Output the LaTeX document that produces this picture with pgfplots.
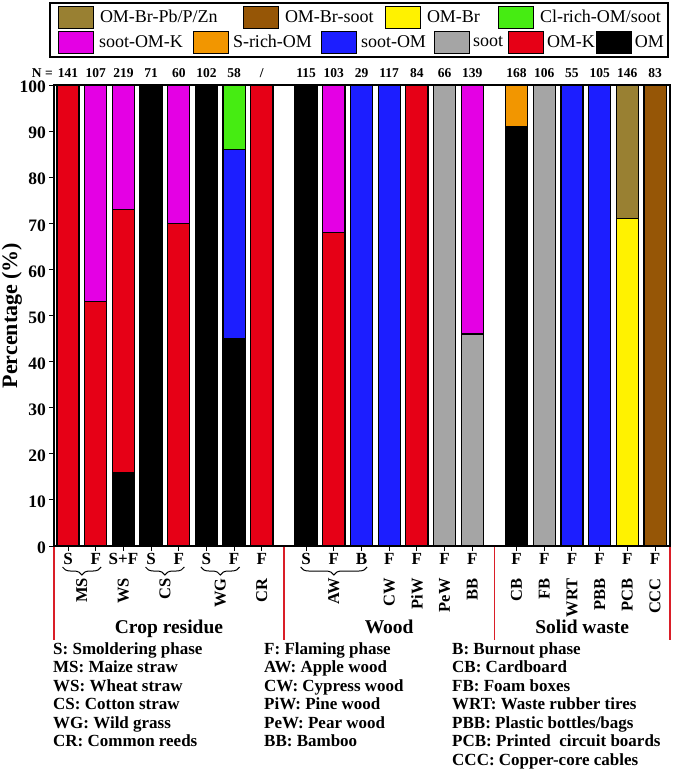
\documentclass[border=0pt]{standalone}
\usepackage{fontspec}
\setmainfont{Liberation Serif}
\usepackage{pgfplots}
\pgfplotsset{compat=1.18}
\usepackage{pgfplotstable}
\usetikzlibrary{decorations.pathreplacing}

\definecolor{cOM}{RGB}{0,0,0}
\definecolor{cOMK}{RGB}{230,0,22}
\definecolor{cSoot}{RGB}{165,165,165}
\definecolor{cSootOM}{RGB}{28,30,255}
\definecolor{cSrich}{RGB}{242,150,0}
\definecolor{cSootOMK}{RGB}{228,0,228}
\definecolor{cCl}{RGB}{70,236,18}
\definecolor{cOMBr}{RGB}{255,242,0}
\definecolor{cOMBrsoot}{RGB}{150,86,6}
\definecolor{cOMBrPb}{RGB}{153,128,50}
\definecolor{cLine}{RGB}{218,30,40}

\pgfplotstableread{
x OM OMK soot sootOM Srich sootOMK Cl OMBr OMBrsoot OMBrPb
1 0 100 0 0 0 0 0 0 0 0
2 0 53 0 0 0 47 0 0 0 0
3 16 57 0 0 0 27 0 0 0 0
4 100 0 0 0 0 0 0 0 0 0
5 0 70 0 0 0 30 0 0 0 0
6 100 0 0 0 0 0 0 0 0 0
7 45 0 0 41 0 0 14 0 0 0
8 0 100 0 0 0 0 0 0 0 0
9.6 100 0 0 0 0 0 0 0 0 0
10.6 0 68 0 0 0 32 0 0 0 0
11.6 0 0 0 100 0 0 0 0 0 0
12.6 0 0 0 100 0 0 0 0 0 0
13.6 0 100 0 0 0 0 0 0 0 0
14.6 0 0 100 0 0 0 0 0 0 0
15.6 0 0 46 0 0 54 0 0 0 0
17.2 91 0 0 0 9 0 0 0 0 0
18.2 0 0 100 0 0 0 0 0 0 0
19.2 0 0 0 100 0 0 0 0 0 0
20.2 0 0 0 100 0 0 0 0 0 0
21.2 0 0 0 0 0 0 0 71 0 29
22.2 0 0 0 0 0 0 0 0 100 0
}\datatable

\newcommand{\lgtext}[3]{\makebox[#1][l]{\hspace*{#2}#3}}
\pgfplotsset{
  legaxis/.style={hide axis, scale only axis, width=10pt, height=10pt,
    xmin=0, xmax=1, ymin=0, ymax=1, anchor=south west,
    legend cell align=left,
    legend image code/.code={\draw[##1, draw=black, line width=1pt] (0pt,-11pt) rectangle (35pt,11pt);},
    legend style={at={(0,0)}, anchor=west, draw=none, fill=none, inner sep=0pt, outer sep=0pt,
      column sep=0pt, nodes={inner sep=0pt}, font=\fontsize{18}{18}\selectfont}},
}

\begin{document}
\begin{tikzpicture}
\useasboundingbox (0pt,0pt) rectangle (675pt,-771pt);
\begin{axis}[
  at={(54pt,-546pt)}, anchor=south west,
  scale only axis, width=616pt, height=461pt,
  ybar stacked, bar width=0.8,
  xmin=0.494, xmax=22.74, ymin=0, ymax=100,
  axis line style={line width=1.2pt},
  xtick={1,2,3,4,5,6,7,8,9.6,10.6,11.6,12.6,13.6,14.6,15.6,17.2,18.2,19.2,20.2,21.2,22.2},
  xticklabels={S,F,S+F,S,F,S,F,F,S,F,B,F,F,F,F,F,F,F,F,F,F},
  ytick={0,10,...,100},
  tick align=outside, xtick pos=bottom, ytick pos=left,
  major tick length=5pt,
  tick style={black, line width=1pt},
  /pgf/number format/assume math mode=true,
  yticklabel style={font=\bfseries\fontsize{17.5}{17.5}\selectfont, inner sep=0pt, xshift=-3pt, yshift=-2pt},
  xticklabel style={font=\bfseries\fontsize{17}{17}\selectfont, inner sep=0pt, yshift=-2pt},
  ylabel={Percentage (\%)},
  ylabel style={at={(axis description cs:-0.0682,0.5)}, anchor=center, font=\bfseries\fontsize{22}{22}\selectfont},
  every axis plot/.append style={draw=black, line width=1.2pt},
]
\addplot[fill=cOM] table[x=x, y=OM] {\datatable};
\addplot[fill=cOMK] table[x=x, y=OMK] {\datatable};
\addplot[fill=cSoot] table[x=x, y=soot] {\datatable};
\addplot[fill=cSootOM] table[x=x, y=sootOM] {\datatable};
\addplot[fill=cSrich] table[x=x, y=Srich] {\datatable};
\addplot[fill=cSootOMK] table[x=x, y=sootOMK] {\datatable};
\addplot[fill=cCl] table[x=x, y=Cl] {\datatable};
\addplot[fill=cOMBr] table[x=x, y=OMBr] {\datatable};
\addplot[fill=cOMBrsoot] table[x=x, y=OMBrsoot] {\datatable};
\addplot[fill=cOMBrPb] table[x=x, y=OMBrPb] {\datatable};
\end{axis}

% N labels
\begin{scope}[every node/.style={anchor=base, inner sep=0pt, font=\bfseries\fontsize{13.5}{13.5}\selectfont}]
\node[anchor=base east] at (53pt,-77pt) {N =};
\node at (68.01pt,-77pt) {141};
\node at (95.70pt,-77pt) {107};
\node at (123.39pt,-77pt) {219};
\node at (151.08pt,-77pt) {71};
\node at (178.77pt,-77pt) {60};
\node at (206.46pt,-77pt) {102};
\node at (234.15pt,-77pt) {58};
\node at (261.84pt,-77pt) {/};
\node at (306.14pt,-77pt) {115};
\node at (333.83pt,-77pt) {103};
\node at (361.52pt,-77pt) {29};
\node at (389.21pt,-77pt) {117};
\node at (416.90pt,-77pt) {84};
\node at (444.59pt,-77pt) {66};
\node at (472.28pt,-77pt) {139};
\node at (516.59pt,-77pt) {168};
\node at (544.28pt,-77pt) {106};
\node at (571.97pt,-77pt) {55};
\node at (599.66pt,-77pt) {105};
\node at (627.35pt,-77pt) {146};
\node at (655.04pt,-77pt) {83};
\end{scope}

% braces
\begin{scope}[line width=1pt, decoration={brace, mirror, amplitude=8pt}]
\draw[decorate] (62.5pt,-567pt) -- (101.2pt,-567pt);
\draw[decorate] (145.5pt,-567pt) -- (184.3pt,-567pt);
\draw[decorate] (200.9pt,-567pt) -- (239.7pt,-567pt);
\draw[decorate] (300.6pt,-567pt) -- (367.1pt,-567pt);
\end{scope}

% rotated sample labels
\begin{scope}[every node/.style={rotate=90, anchor=east, inner sep=0pt, font=\bfseries\fontsize{16.5}{16.5}\selectfont}]
\node at (81.86pt,-578pt) {MS};
\node at (123.39pt,-578pt) {WS};
\node at (164.9pt,-578pt) {CS};
\node at (220.3pt,-578pt) {WG};
\node at (261.84pt,-578pt) {CR};
\node at (333.83pt,-578pt) {AW};
\node at (389.21pt,-578pt) {CW};
\node at (416.90pt,-578pt) {PiW};
\node at (444.59pt,-578pt) {PeW};
\node at (472.28pt,-578pt) {BB};
\node at (516.59pt,-578pt) {CB};
\node at (544.28pt,-578pt) {FB};
\node at (571.97pt,-578pt) {WRT};
\node at (599.66pt,-578pt) {PBB};
\node at (627.35pt,-578pt) {PCB};
\node at (655.04pt,-578pt) {CCC};
\end{scope}

% group separators
\draw[cLine, line width=1.2pt] (54pt,-546.6pt) -- (54pt,-640pt);
\draw[cLine, line width=1.2pt] (284.0pt,-546.6pt) -- (284.0pt,-640pt);
\draw[cLine, line width=1.2pt] (494.4pt,-546.6pt) -- (494.4pt,-640pt);
\draw[cLine, line width=1.2pt] (670pt,-546.6pt) -- (670pt,-640pt);

% group names
\begin{scope}[every node/.style={anchor=base, inner sep=0pt, font=\bfseries\fontsize{19.5}{19.5}\selectfont}]
\node at (169pt,-633pt) {Crop residue};
\node at (389.2pt,-633pt) {Wood};
\node at (582.2pt,-633pt) {Solid waste};
\end{scope}

% legend row 1
\begin{axis}[legaxis, at={(58pt,-17.5pt)}, legend columns=4]
\addlegendimage{fill=cOMBrPb}
\addlegendentry{\lgtext{149pt}{6pt}{OM-Br-Pb/P/Zn}}
\addlegendimage{fill=cOMBrsoot}
\addlegendentry{\lgtext{106pt}{6pt}{OM-Br-soot}}
\addlegendimage{fill=cOMBr}
\addlegendentry{\lgtext{77pt}{6pt}{OM-Br}}
\addlegendimage{fill=cCl}
\addlegendentry{\lgtext{135pt}{6pt}{Cl-rich-OM/soot}}
\end{axis}

% legend row 2
\begin{axis}[legaxis, at={(58pt,-42.5pt)}, legend columns=6]
\addlegendimage{fill=cSootOMK}
\addlegendentry{\lgtext{99pt}{5pt}{soot-OM-K}}
\addlegendimage{fill=cSrich}
\addlegendentry{\lgtext{92pt}{4pt}{S-rich-OM}}
\addlegendimage{fill=cSootOM}
\addlegendentry{\lgtext{77pt}{4pt}{soot-OM}}
\addlegendimage{fill=cSoot}
\addlegendentry{\lgtext{38pt}{3pt}{soot}}
\addlegendimage{fill=cOMK}
\addlegendentry{\lgtext{52pt}{3pt}{OM-K}}
\addlegendimage{fill=cOM}
\addlegendentry{\lgtext{39pt}{3pt}{OM}}
\end{axis}

\draw[line width=1.5pt] (50pt,-3pt) rectangle (668pt,-57pt);

% glossary
\begin{scope}[every node/.style={anchor=north west, inner sep=0pt, align=left, font=\bfseries\fontsize{17}{18.5}\selectfont}]
\node at (53pt,-642pt) {S: Smoldering phase\\MS: Maize straw\\WS: Wheat straw\\CS: Cotton straw\\WG: Wild grass\\CR: Common reeds};
\node at (264pt,-642pt) {F: Flaming phase\\AW: Apple wood\\CW: Cypress wood\\PiW: Pine wood\\PeW: Pear wood\\BB: Bamboo};
\node at (452pt,-642pt) {B: Burnout phase\\CB: Cardboard\\FB: Foam boxes\\WRT: Waste rubber tires\\PBB: Plastic bottles/bags\\PCB: Printed\ \ circuit boards\\CCC: Copper-core cables};
\end{scope}
\end{tikzpicture}
\end{document}
